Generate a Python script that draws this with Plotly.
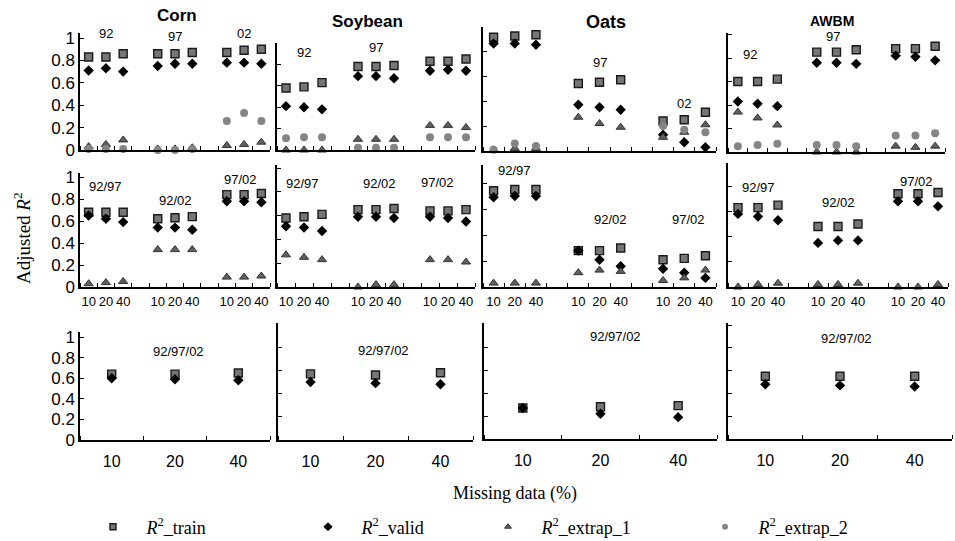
import plotly.graph_objects as go

# ---------------- data ----------------
missing = [10, 20, 40]
crops = ["Corn", "Soybean", "Oats", "AWBM"]
single_years = ["92", "97", "02"]
pair_years = ["92/97", "92/02", "97/02"]
all_years = ["92/97/02"]

# Row 1: single-year models (groups 92, 97, 02 x missing 10/20/40)
train_single = {
    "Corn":    [0.83, 0.83, 0.86, 0.86, 0.86, 0.87, 0.87, 0.89, 0.90],
    "Soybean": [0.58, 0.59, 0.63, 0.78, 0.78, 0.79, 0.83, 0.83, 0.85],
    "Oats":    [0.91, 0.92, 0.93, 0.54, 0.55, 0.57, 0.24, 0.25, 0.31],
    "AWBM":    [0.60, 0.60, 0.62, 0.85, 0.85, 0.87, 0.88, 0.88, 0.90],
}
valid_single = {
    "Corn":    [0.71, 0.73, 0.70, 0.75, 0.77, 0.77, 0.78, 0.78, 0.77],
    "Soybean": [0.41, 0.40, 0.38, 0.69, 0.69, 0.67, 0.74, 0.75, 0.74],
    "Oats":    [0.86, 0.86, 0.85, 0.37, 0.35, 0.33, 0.13, 0.07, 0.03],
    "AWBM":    [0.43, 0.41, 0.39, 0.76, 0.76, 0.75, 0.82, 0.81, 0.78],
}
extrap1_single = {
    "Corn":    [0.03, 0.05, 0.09, 0.01, 0.01, 0.02, 0.04, 0.05, 0.07],
    "Soybean": [0.00, 0.00, 0.00, 0.10, 0.10, 0.10, 0.23, 0.23, 0.21],
    "Oats":    [0.01, 0.02, 0.02, 0.27, 0.22, 0.19, 0.11, 0.15, 0.21],
    "AWBM":    [0.34, 0.29, 0.23, 0.00, 0.00, 0.00, 0.05, 0.04, 0.05],
}
extrap2_single = {
    "Corn":    [0.01, 0.01, 0.01, 0.00, 0.00, 0.01, 0.26, 0.33, 0.26],
    "Soybean": [0.11, 0.12, 0.12, 0.02, 0.02, 0.02, 0.12, 0.12, 0.12],
    "Oats":    [0.01, 0.06, 0.04, -0.01, -0.01, -0.01, 0.20, 0.17, 0.15],
    "AWBM":    [0.05, 0.06, 0.07, 0.06, 0.06, 0.05, 0.14, 0.14, 0.16],
}

# Row 2: two-year models (groups 92/97, 92/02, 97/02)
train_pair = {
    "Corn":    [0.68, 0.68, 0.68, 0.62, 0.63, 0.64, 0.84, 0.84, 0.85],
    "Soybean": [0.58, 0.59, 0.61, 0.65, 0.65, 0.66, 0.64, 0.64, 0.65],
    "Oats":    [0.74, 0.75, 0.75, 0.28, 0.28, 0.30, 0.21, 0.22, 0.24],
    "AWBM":    [0.63, 0.63, 0.65, 0.48, 0.48, 0.50, 0.74, 0.74, 0.75],
}
valid_pair = {
    "Corn":    [0.65, 0.62, 0.59, 0.54, 0.54, 0.52, 0.78, 0.78, 0.77],
    "Soybean": [0.51, 0.50, 0.47, 0.59, 0.59, 0.58, 0.59, 0.58, 0.55],
    "Oats":    [0.69, 0.70, 0.70, 0.28, 0.21, 0.16, 0.14, 0.11, 0.07],
    "AWBM":    [0.58, 0.56, 0.53, 0.35, 0.37, 0.37, 0.68, 0.68, 0.64],
}
extrap1_pair = {
    "Corn":    [0.03, 0.04, 0.05, 0.34, 0.34, 0.34, 0.09, 0.09, 0.10],
    "Soybean": [0.27, 0.25, 0.23, 0.00, 0.02, 0.02, 0.23, 0.23, 0.21],
    "Oats":    [0.03, 0.03, 0.03, 0.11, 0.13, 0.12, 0.05, 0.07, 0.13],
    "AWBM":    [0.00, 0.02, 0.03, 0.02, 0.02, 0.03, 0.00, 0.00, 0.02],
}

# Row 3: three-year model (92/97/02)
train_all = {"Corn": [0.64, 0.64, 0.65], "Soybean": [0.57, 0.56, 0.58],
             "Oats": [0.27, 0.28, 0.29], "AWBM": [0.55, 0.55, 0.55]}
valid_all = {"Corn": [0.60, 0.59, 0.58], "Soybean": [0.50, 0.49, 0.48],
             "Oats": [0.27, 0.22, 0.19], "AWBM": [0.48, 0.47, 0.46]}

y_ticks = [0, 0.2, 0.4, 0.6, 0.8, 1.0]
y_ticktext = ["0", "0.2", "0.4", "0.6", "0.8", "1"]

# ---------------- layout / style config ----------------
W, H = 955, 541
# (x_left, x_right, y_of_zero, px_per_unit, y_top) in pixels
panel_px = [
    [(80, 270, 150, 112, 33), (277, 475, 150, 107, 43), (483, 716, 151, 125, 27), (728, 945, 152, 117.5, 33)],
    [(80, 270, 287, 110, 173), (277, 475, 287, 119, 165), (483, 716, 287, 130, 165), (728, 948, 287, 126, 163)],
    [(80, 270, 440, 103, 332), (278, 473, 440, 116, 323), (484, 717, 439, 115, 323), (728, 952, 439, 114, 323)],
]
# group label positions (x index, y value) per panel
label_pos = [
    [[(1, 1.04), (5, 1.01), (9, 1.04)], [(1, 0.91), (5, 0.96), (9, 1.06)],
     [(1, 1.03), (5, 0.71), (9, 0.38)], [(0.6, 0.83), (4.8, 0.98), (8.2, 1.06)]],
    [[(1, 0.91), (5, 0.79), (8.8, 0.98)], [(0.9, 0.87), (5.2, 0.87), (8.4, 0.88)],
     [(1, 0.90), (5.5, 0.52), (9.2, 0.52)], [(1, 0.79), (5, 0.67), (8.9, 0.84)]],
    [[(1.05, 0.86)], [(1.12, 0.77)], [(1.19, 0.89)], [(1.09, 0.88)]],
]
title_pos = {"Corn": (177, 15, 17), "Soybean": (367, 22, 17), "Oats": (606, 22, 18), "AWBM": (832, 21, 14)}

styles = {
    "train": dict(symbol="square", size=8, color="#767676", line=dict(color="#1a1a1a", width=1.4)),
    "valid": dict(symbol="diamond", size=8, color="#000000", line=dict(width=0)),
    "extrap1": dict(symbol="triangle-up", size=8, color="#5f5f5f", line=dict(color="#333333", width=1)),
    "extrap2": dict(symbol="circle", size=8, color="#858585", line=dict(width=0)),
}
legend_sizes = {"train": 6, "valid": 7, "extrap1": 6, "extrap2": 6}
names = {
    "train": "<i>R</i><sup>2</sup>_train",
    "valid": "<i>R</i><sup>2</sup>_valid",
    "extrap1": "<i>R</i><sup>2</sup>_extrap_1",
    "extrap2": "<i>R</i><sup>2</sup>_extrap_2",
}
legend_px = {"train": ("legend", 113), "valid": ("legend2", 328), "extrap1": ("legend3", 508), "extrap2": ("legend4", 725)}
legend_y = 527

# series drawn in spreadsheet order (later series on top)
rows = [
    (single_years, {"train": train_single, "valid": valid_single, "extrap1": extrap1_single, "extrap2": extrap2_single}),
    (pair_years, {"train": train_pair, "valid": valid_pair, "extrap1": extrap1_pair}),
    (all_years, {"train": train_all, "valid": valid_all}),
]

SANS = "Liberation Sans, Arial, sans-serif"
SERIF = "Liberation Serif, Times New Roman, serif"

fig = go.Figure()
layout = dict(width=W, height=H, margin=dict(l=0, r=0, t=0, b=0, autoexpand=False),
              plot_bgcolor="white", paper_bgcolor="white", showlegend=True)
annotations = []

for r, (groups, series) in enumerate(rows):
    for c, crop in enumerate(crops):
        n = r * 4 + c + 1
        xs = "x" if n == 1 else f"x{n}"
        ys = "y" if n == 1 else f"y{n}"
        xl, xr, y0, u, yt = panel_px[r][c]
        ng = len(groups)
        if ng == 1:
            xpos = list(range(len(missing)))
        else:
            xpos = [4 * g + i for g in range(ng) for i in range(len(missing))]
        xmax = max(xpos) + 0.5
        for key, data in series.items():
            fig.add_trace(go.Scatter(
                x=xpos, y=data[crop], mode="markers", xaxis=xs, yaxis=ys,
                marker=styles[key], cliponaxis=False, name=names[key],
                showlegend=False, hoverinfo="skip"))
        if ng == 1:
            ticktext = [str(m) for m in missing]
            tfont = dict(family=SANS, size=16, color="black")
            showlbl = True
            standoff = 6
        else:
            ticktext = [str(m) for m in missing] * ng
            tfont = dict(family=SANS, size=13, color="black")
            showlbl = (r == 1)
            standoff = 2
        minor_vals = [v - 0.5 for v in range(int(xmax + 0.5) + 1)]
        layout["xaxis" if n == 1 else f"xaxis{n}"] = dict(
            domain=[xl / W, xr / W], anchor=ys, range=[-0.5, xmax],
            tickmode="array", tickvals=xpos, ticktext=ticktext,
            showticklabels=showlbl, tickfont=tfont, ticks="", ticklabelstandoff=standoff,
            minor=dict(tickmode="array", tickvals=minor_vals, ticks="inside",
                       ticklen=4, tickwidth=1.2, tickcolor="black"),
            showline=True, linecolor="black", linewidth=1.5,
            showgrid=False, zeroline=False, fixedrange=True)
        layout["yaxis" if n == 1 else f"yaxis{n}"] = dict(
            domain=[1 - y0 / H, 1 - yt / H], anchor=xs, range=[0, (y0 - yt) / u],
            tickmode="array", tickvals=y_ticks, ticktext=y_ticktext,
            showticklabels=(c == 0), ticks="inside", ticklen=4, tickwidth=1.2,
            tickcolor="black", tickfont=dict(family=SANS, size=17, color="black"),
            showline=True, linecolor="black", linewidth=1.5,
            showgrid=False, zeroline=False, fixedrange=True)
        for g, name in enumerate(groups):
            lx, ly = label_pos[r][c][g]
            annotations.append(dict(x=lx, y=ly, xref=xs, yref=ys, text=name, showarrow=False,
                                    xanchor="center", yanchor="middle",
                                    font=dict(family=SANS, size=13, color="black")))

# legend-only entries (one per series, each in its own legend box)
for key, (lname, mx) in legend_px.items():
    m = dict(styles[key])
    m["size"] = legend_sizes[key]
    fig.add_trace(go.Scatter(x=[None], y=[None], mode="markers", marker=m,
                             name="&nbsp;&nbsp;&nbsp;" + names[key], legend=lname,
                             showlegend=True, hoverinfo="skip"))
    layout[lname] = dict(x=(mx - 20) / W, y=1 - legend_y / H, xanchor="left", yanchor="middle",
                         bgcolor="rgba(0,0,0,0)", borderwidth=0, itemsizing="trace",
                         font=dict(family=SERIF, size=18, color="black"))

# panel titles
for crop in crops:
    px, py, fs = title_pos[crop]
    annotations.append(dict(x=px / W, y=1 - py / H, xref="paper", yref="paper",
                            xanchor="center", yanchor="middle",
                            text=f"<b>{crop}</b>", showarrow=False,
                            font=dict(family=SANS, size=fs, color="black")))
# axis titles
annotations.append(dict(x=22 / W, y=1 - 238 / H, xref="paper", yref="paper", textangle=-90,
                        xanchor="center", yanchor="middle",
                        text="Adjusted <i>R</i><sup>2</sup>", showarrow=False,
                        font=dict(family=SERIF, size=19, color="black")))
annotations.append(dict(x=515 / W, y=1 - 493 / H, xref="paper", yref="paper",
                        xanchor="center", yanchor="middle",
                        text="Missing data (%)", showarrow=False,
                        font=dict(family=SERIF, size=18, color="black")))
layout["annotations"] = annotations

fig.update_layout(**layout)
fig.write_html("out.html")
